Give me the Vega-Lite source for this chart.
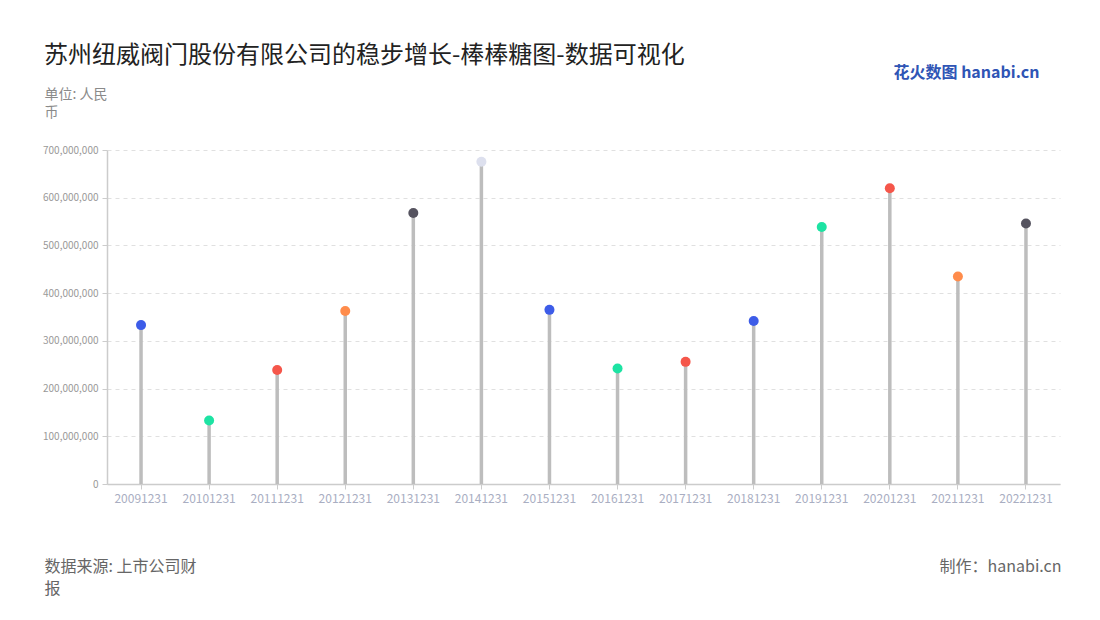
{
  "$schema": "https://vega.github.io/schema/vega-lite/v6.json",
  "width": 953,
  "height": 334,
  "autosize": {"type": "none"},
  "padding": {"left": 107, "top": 150, "right": 40, "bottom": 136},
  "background": "white",
  "config": {"font": "Noto Sans CJK SC", "view": {"stroke": null}},
  "title": {
    "text": "苏州纽威阀门股份有限公司的稳步增长-棒棒糖图-数据可视化",
    "anchor": "start",
    "frame": "group",
    "dx": -63,
    "offset": -4,
    "fontSize": 24,
    "fontWeight": "normal",
    "color": "#222222"
  },
  "data": {
    "values": [
      {"date": "20091231", "value": 333000000},
      {"date": "20101231", "value": 133000000},
      {"date": "20111231", "value": 239000000},
      {"date": "20121231", "value": 362600000},
      {"date": "20131231", "value": 568000000},
      {"date": "20141231", "value": 675500000},
      {"date": "20151231", "value": 365000000},
      {"date": "20161231", "value": 242000000},
      {"date": "20171231", "value": 256000000},
      {"date": "20181231", "value": 341600000},
      {"date": "20191231", "value": 538600000},
      {"date": "20201231", "value": 620000000},
      {"date": "20211231", "value": 435000000},
      {"date": "20221231", "value": 546000000}
    ]
  },
  "layer": [
    {
      "mark": {"type": "rule", "strokeWidth": 3.5, "color": "#bdbdbd"},
      "encoding": {
        "x": {
          "field": "date",
          "type": "nominal",
          "sort": null,
          "scale": {"paddingInner": 0, "paddingOuter": 0},
          "axis": {
            "orient": "bottom",
            "labelAngle": 0,
            "labelFontSize": 12,
            "labelColor": "#a9aec2",
            "labelPadding": 4,
            "tickSize": 5,
            "tickColor": "#cccccc",
            "domainColor": "#cccccc",
            "domainWidth": 1.5,
            "grid": false,
            "title": ["数据来源: 上市公司财", "报"],
            "titleFontSize": 16,
            "titleFontWeight": "normal",
            "titleColor": "#666666",
            "titleAlign": "left",
            "titleBaseline": "top",
            "titleAngle": 0,
            "titleX": -63,
            "titleY": 74,
            "titleLineHeight": 22
          }
        },
        "y": {
          "field": "value",
          "type": "quantitative",
          "scale": {"domain": [0, 700000000], "nice": false},
          "axis": {
            "orient": "left",
            "values": [0, 100000000, 200000000, 300000000, 400000000, 500000000, 600000000, 700000000],
            "format": ",d",
            "labelFontSize": 10,
            "labelColor": "#999999",
            "labelPadding": 4,
            "tickSize": 5,
            "tickColor": "#cccccc",
            "domainColor": "#cccccc",
            "domainWidth": 1.5,
            "grid": true,
            "gridColor": "#e0e0e0",
            "gridDash": [4, 4],
            "title": ["单位: 人民", "币"],
            "titleFontSize": 14,
            "titleFontWeight": "normal",
            "titleColor": "#8a8a8a",
            "titleAlign": "left",
            "titleBaseline": "top",
            "titleAngle": 0,
            "titleX": -63,
            "titleY": -63,
            "titleLineHeight": 18
          }
        },
        "y2": {"datum": 0}
      }
    },
    {
      "mark": {"type": "point", "filled": true, "size": 100, "opacity": 1},
      "encoding": {
        "x": {
          "field": "date",
          "type": "nominal",
          "sort": null,
          "axis": {
            "orient": "top",
            "labels": false,
            "ticks": false,
            "domain": false,
            "grid": false,
            "title": "花火数图 hanabi.cn",
            "titleFontSize": 16,
            "titleFontWeight": "bold",
            "titleColor": "#2f55b5",
            "titleAlign": "left",
            "titleBaseline": "top",
            "titleX": 786,
            "titleY": -86
          }
        },
        "y": {
          "field": "value",
          "type": "quantitative",
          "axis": {
            "orient": "right",
            "labels": false,
            "ticks": false,
            "domain": false,
            "grid": false,
            "title": "制作：hanabi.cn",
            "titleFontSize": 16,
            "titleFontWeight": "normal",
            "titleColor": "#666666",
            "titleAlign": "right",
            "titleBaseline": "top",
            "titleAngle": 0,
            "titleX": 1,
            "titleY": 408
          }
        },
        "color": {
          "field": "date",
          "type": "nominal",
          "legend": null,
          "scale": {
            "domain": ["20091231", "20101231", "20111231", "20121231", "20131231", "20141231", "20151231", "20161231", "20171231", "20181231", "20191231", "20201231", "20211231", "20221231"],
            "range": ["#3d5ce8", "#1de3a3", "#f5564a", "#ff8c4b", "#55535f", "#dde0ee", "#3d5ce8", "#1de3a3", "#f5564a", "#3d5ce8", "#1de3a3", "#f5564a", "#ff8c4b", "#55535f"]
          }
        }
      }
    }
  ],
  "resolve": {"axis": {"x": "independent", "y": "independent"}}
}
